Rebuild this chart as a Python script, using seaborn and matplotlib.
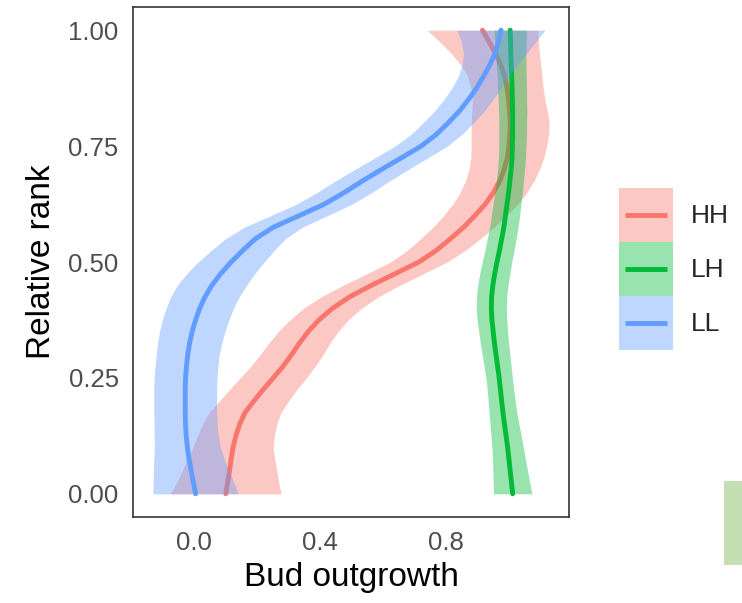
import numpy as np
import pandas as pd
import matplotlib
matplotlib.use("Agg")
import matplotlib.pyplot as plt
import seaborn as sns
from matplotlib.patches import Rectangle
from matplotlib.lines import Line2D
from matplotlib.legend_handler import HandlerBase

# ---------------- data ----------------
rank = [0.000, 0.025, 0.050, 0.075, 0.100, 0.125, 0.150, 0.175, 0.200, 0.225,
        0.250, 0.275, 0.300, 0.325, 0.350, 0.375, 0.400, 0.425, 0.450, 0.475,
        0.500, 0.525, 0.550, 0.575, 0.600, 0.625, 0.650, 0.675, 0.700, 0.725,
        0.750, 0.775, 0.800, 0.825, 0.850, 0.875, 0.900, 0.925, 0.950, 0.975, 1.000]

groups = ["HH", "LH", "LL"]

HH_fit = [0.101, 0.107, 0.113, 0.118, 0.124, 0.133, 0.145, 0.162, 0.190, 0.220,
          0.252, 0.283, 0.310, 0.335, 0.363, 0.397, 0.440, 0.495, 0.565, 0.640,
          0.715, 0.770, 0.815, 0.857, 0.893, 0.926, 0.952, 0.972, 0.986, 0.996,
          1.001, 1.004, 1.005, 1.003, 1.000, 0.995, 0.988, 0.975, 0.958, 0.938, 0.917]
HH_se = [0.176, 0.162, 0.150, 0.138, 0.128, 0.122, 0.118, 0.114, 0.110, 0.107,
         0.105, 0.102, 0.100, 0.097, 0.095, 0.093, 0.092, 0.091, 0.090, 0.090,
         0.090, 0.092, 0.095, 0.097, 0.100, 0.103, 0.106, 0.109, 0.112, 0.116,
         0.120, 0.123, 0.124, 0.120, 0.115, 0.115, 0.118, 0.127, 0.140, 0.157, 0.176]

LH_fit = [1.013, 1.009, 1.005, 1.001, 0.997, 0.992, 0.987, 0.982, 0.978, 0.974,
          0.970, 0.965, 0.960, 0.955, 0.951, 0.947, 0.945, 0.946, 0.950, 0.956,
          0.963, 0.971, 0.978, 0.985, 0.990, 0.995, 1.000, 1.004, 1.008, 1.011,
          1.012, 1.013, 1.013, 1.013, 1.012, 1.011, 1.010, 1.008, 1.007, 1.006, 1.005]
LH_se = [0.061, 0.058, 0.055, 0.052, 0.050, 0.048, 0.046, 0.044, 0.043, 0.042,
         0.042, 0.043, 0.044, 0.045, 0.046, 0.047, 0.048, 0.048, 0.048, 0.048,
         0.047, 0.046, 0.046, 0.045, 0.045, 0.044, 0.044, 0.043, 0.043, 0.043,
         0.043, 0.044, 0.044, 0.045, 0.045, 0.046, 0.046, 0.047, 0.048, 0.050, 0.052]

LL_fit = [0.005, -0.002, -0.009, -0.016, -0.021, -0.025, -0.027, -0.028, -0.028, -0.028,
          -0.027, -0.024, -0.020, -0.014, -0.006, 0.005, 0.018, 0.035, 0.057, 0.085,
          0.118, 0.155, 0.195, 0.252, 0.334, 0.415, 0.478, 0.536, 0.597, 0.660,
          0.722, 0.770, 0.808, 0.843, 0.872, 0.898, 0.920, 0.940, 0.957, 0.968, 0.976]
LL_se = [0.136, 0.128, 0.120, 0.112, 0.105, 0.102, 0.100, 0.100, 0.100, 0.100,
         0.100, 0.100, 0.100, 0.102, 0.104, 0.106, 0.107, 0.109, 0.110, 0.108,
         0.105, 0.100, 0.095, 0.092, 0.090, 0.088, 0.087, 0.086, 0.085, 0.084,
         0.083, 0.081, 0.080, 0.079, 0.078, 0.078, 0.080, 0.088, 0.100, 0.118, 0.140]

x_ticks = [0.0, 0.4, 0.8]
x_tick_labels = ["0.0", "0.4", "0.8"]
y_ticks = [0.00, 0.25, 0.50, 0.75, 1.00]
y_tick_labels = ["0.00", "0.25", "0.50", "0.75", "1.00"]

colors = {"HH": "#F8766D", "LH": "#00BA38", "LL": "#619CFF"}

fits = {"HH": HH_fit, "LH": LH_fit, "LL": LL_fit}
ses = {"HH": HH_se, "LH": LH_se, "LL": LL_se}

frames = []
for g in groups:
    frames.append(pd.DataFrame({"rank": rank, "outgrowth": fits[g], "half": ses[g], "group": g}))
df = pd.concat(frames, ignore_index=True)
df["lo"] = df["outgrowth"] - df["half"]
df["hi"] = df["outgrowth"] + df["half"]

# ---------------- figure ----------------
sns.set_style("white")
plt.rcParams["font.family"] = ["Liberation Sans", "DejaVu Sans"]

W, H = 742, 603
fig = plt.figure(figsize=(W / 100, H / 100), dpi=100)
ax = fig.add_axes([133 / W, 1 - 517 / H, (569 - 133) / W, (517 - 7) / H])

LW = 3.5
z = 1
for g in groups:
    sub = df[df["group"] == g]
    ax.fill_betweenx(sub["rank"], sub["lo"], sub["hi"], color=colors[g], alpha=0.4,
                     linewidth=0, zorder=z)
    sns.lineplot(data=sub, x="outgrowth", y="rank", orient="y", color=colors[g],
                 linewidth=LW, ax=ax, legend=False, zorder=z + 1)
    z += 2

# ggplot-like 5% expansion
xmin, xmax = df["lo"].min(), df["hi"].max()
dx = (xmax - xmin) * 0.05
ax.set_xlim(xmin - dx, xmax + dx)
ymin, ymax = min(rank), max(rank)
dy = (ymax - ymin) * 0.05
ax.set_ylim(ymin - dy, ymax + dy)

ax.set_xticks(x_ticks)
ax.set_xticklabels(x_tick_labels)
ax.set_yticks(y_ticks)
ax.set_yticklabels(y_tick_labels)

for s in ax.spines.values():
    s.set_visible(True)
    s.set_color("#333333")
    s.set_linewidth(1.2)

ax.tick_params(axis="both", which="major", length=5.8, width=1.1, color="#333333",
               labelsize=18.5, labelcolor="#4D4D4D", pad=4.5, direction="out")
ax.set_xlabel("Bud outgrowth", fontsize=24, color="black", labelpad=5)
ax.set_ylabel("Relative rank", fontsize=24, color="black", labelpad=8)
ax.grid(False)


# ---------------- legend ----------------
class KeyHandler(HandlerBase):
    def create_artists(self, legend, orig_handle, xdescent, ydescent, width, height,
                       fontsize, trans):
        c = orig_handle.get_color()
        rect = Rectangle((-xdescent, -ydescent), width, height, facecolor=c, alpha=0.4,
                         edgecolor="none", transform=trans)
        yc = -ydescent + height / 2
        line = Line2D([-xdescent + 0.11 * width, -xdescent + 0.89 * width], [yc, yc],
                      color=c, lw=LW, solid_capstyle="butt", transform=trans)
        return [rect, line]


handles = [Line2D([], [], color=colors[g]) for g in groups]
leg_fs = 19
ax.legend(handles, groups, handler_map={Line2D: KeyHandler()},
          loc="upper left", bbox_to_anchor=(619 / W, 1 - 188 / H),
          bbox_transform=fig.transFigure, frameon=False, fontsize=leg_fs,
          handlelength=2.045, handleheight=2.77, labelspacing=0.0,
          handletextpad=0.68, borderpad=0, borderaxespad=0)

# small light-green block at the bottom-right edge of the picture
fig.patches.append(Rectangle((724 / W, 1 - 565 / H), 18 / W, 84 / H,
                             transform=fig.transFigure, facecolor="#C5DFB4",
                             edgecolor="none"))

fig.savefig("out.png", dpi=100)
